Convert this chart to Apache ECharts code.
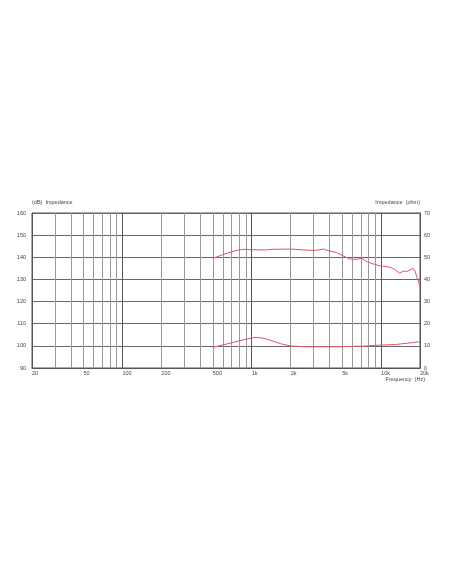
<!DOCTYPE html>
<html>
<head>
<meta charset="utf-8">
<script src="https://cdn.jsdelivr.net/npm/echarts@6/dist/echarts.min.js"></script>
<style>html,body{margin:0;padding:0;background:#fff;}#c{width:452px;height:584px;}</style>
</head>
<body>
<div id="c"></div>
<script>
const splFreq = [500, 586, 700, 788, 888, 1000, 1270, 1430, 2040, 2400, 3090, 3580, 4030, 4540, 5100, 5750, 6470, 7090, 7770, 8730, 9830, 11100, 12400, 13200, 13900, 14900, 15800, 16700, 17700, 18300, 18900, 20000];
const splDb = [139.5, 141.0, 142.5, 143.3, 143.6, 143.4, 143.3, 143.6, 143.7, 143.4, 143.1, 143.7, 142.8, 142.1, 140.6, 139.2, 139.1, 139.5, 138.0, 137.0, 136.1, 135.8, 135.0, 133.8, 132.8, 133.8, 133.5, 134.3, 135.0, 133.8, 131.2, 126.7];
const impFreq = [500, 700, 888, 1060, 1200, 1430, 1710, 2040, 2580, 4670, 7500, 9500, 12900, 17200, 19500, 20000];
const impOhm = [9.3, 11.4, 12.9, 13.8, 13.6, 12.3, 10.8, 9.9, 9.6, 9.6, 9.9, 10.3, 10.6, 11.4, 11.9, 11.2];
const xLabelValues = [20, 50, 100, 200, 500, 1000, 2000, 5000, 10000, 20000];
const majorGrid = [100, 1000, 10000];
const minorGrid = [30, 40, 50, 60, 70, 80, 90, 200, 300, 400, 500, 600, 700, 800, 900, 2000, 3000, 4000, 5000, 6000, 7000, 8000, 9000];

const chart = echarts.init(document.getElementById('c'));
const txt = {color: '#444', fontSize: 5.5, fontFamily: 'Liberation Sans, Arial, sans-serif'};
const grid = {left: 32, right: 32, top: 213, bottom: 216, show: true, borderColor: '#555', borderWidth: 1, backgroundColor: 'transparent', containLabel: false, outerBoundsMode: 'none'};

chart.setOption({
  animation: false,
  backgroundColor: '#fff',
  grid: grid,
  xAxis: [
    {
      type: 'log', logBase: 10, min: 20, max: 20000,
      name: 'Frequency  (Hz)', nameLocation: 'end', nameGap: 5, nameMoveOverlap: false,
      nameTextStyle: Object.assign({}, txt, {align: 'right', verticalAlign: 'top', padding: [8, 0, 0, 0]}),
      axisLine: {show: true, lineStyle: {color: '#555', width: 1}},
      axisTick: {show: false, customValues: majorGrid},
      splitLine: {show: true, lineStyle: {color: '#555', width: 1}},
      axisLabel: Object.assign({}, txt, {
        customValues: xLabelValues, align: 'left', margin: 2,
        formatter: v => v >= 1000 ? (v / 1000) + 'k' : String(v)
      })
    },
    {
      type: 'log', logBase: 10, min: 20, max: 20000,
      axisLine: {show: false},
      axisTick: {show: false, customValues: minorGrid},
      splitLine: {show: true, lineStyle: {color: '#999', width: 1}},
      axisLabel: {show: false}
    }
  ],
  yAxis: [
    {
      type: 'value', min: 90, max: 160, interval: 10, position: 'left',
      name: '(dB)  Impedance', nameLocation: 'end', nameGap: 8,
      nameTextStyle: Object.assign({}, txt, {align: 'left'}),
      axisLine: {show: true, lineStyle: {color: '#555'}},
      axisTick: {show: false},
      splitLine: {show: true, lineStyle: {color: '#666', width: 1}},
      axisLabel: Object.assign({}, txt, {margin: 6})
    },
    {
      type: 'value', min: 0, max: 70, interval: 10, position: 'right',
      name: 'Impedance  (ohm)', nameLocation: 'end', nameGap: 8,
      nameTextStyle: Object.assign({}, txt, {align: 'right'}),
      axisLine: {show: true, lineStyle: {color: '#555'}},
      axisTick: {show: false},
      splitLine: {show: false},
      axisLabel: Object.assign({}, txt, {margin: 4})
    }
  ],
  series: [
    {
      type: 'line', xAxisIndex: 0, yAxisIndex: 0, symbol: 'none', z: 5,
      lineStyle: {color: '#e05565', width: 1},
      data: splFreq.map((f, i) => [f, splDb[i]])
    },
    {
      type: 'line', xAxisIndex: 0, yAxisIndex: 1, symbol: 'none', z: 5,
      lineStyle: {color: '#e05565', width: 1},
      data: impFreq.map((f, i) => [f, impOhm[i]])
    }
  ]
});
</script>
</body>
</html>
